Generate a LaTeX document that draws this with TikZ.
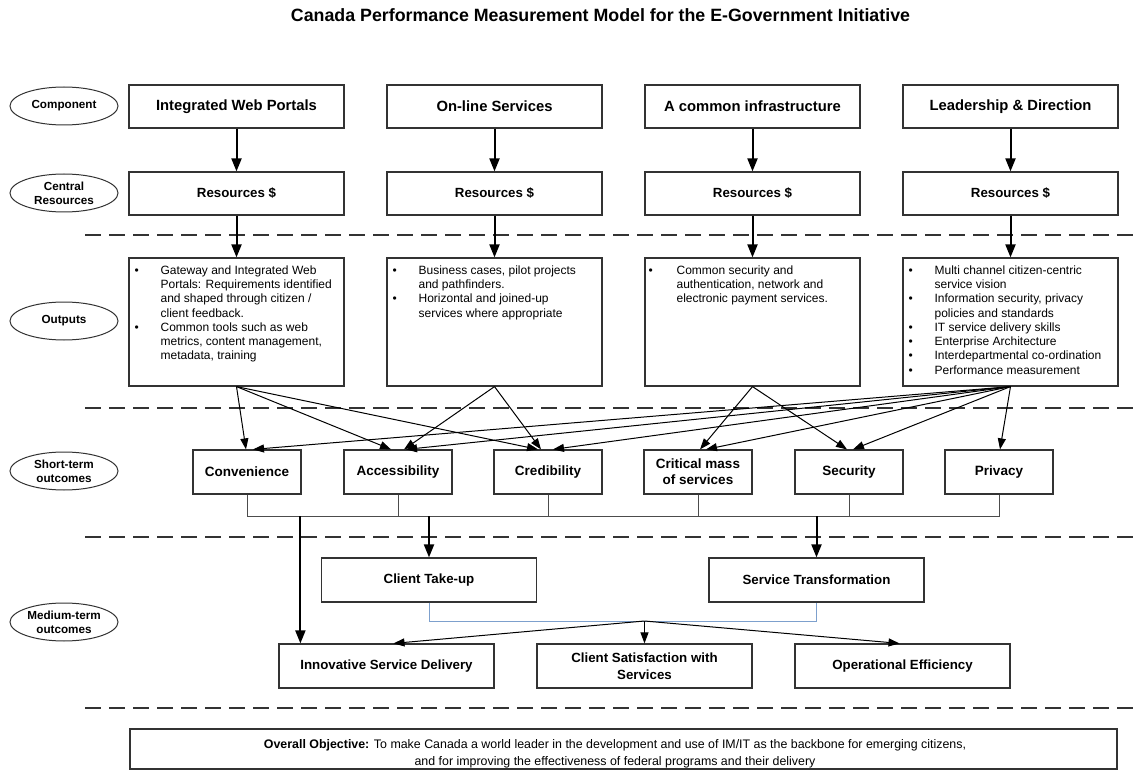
\documentclass[tikz,border=0pt]{standalone}
\usepackage{fontspec}
\setmainfont{Liberation Sans}
\usetikzlibrary{arrows.meta,calc,shapes.geometric}
\newcommand{\bl}{\textbullet}
\begin{document}
\begin{tikzpicture}[x=1pt,y=-1pt,
  box/.style={draw=black!80, line width=1.2pt, inner sep=0pt, align=center, font=\bfseries\fontsize{13.3}{16}\selectfont},
  comp/.style={box, minimum width=215pt, minimum height=43pt, font=\bfseries\fontsize{14.8}{17}\selectfont},
  res/.style={box, minimum width=215pt, minimum height=43pt},
  outb/.style={draw=black!80, line width=1.2pt, minimum width=215pt, minimum height=128pt, inner sep=0pt},
  outt/.style={anchor=north west, inner sep=0pt, font=\fontsize{12}{14.3}\selectfont, align=left},
  stb/.style={box, minimum width=108pt, minimum height=44pt, font=\bfseries\fontsize{13.5}{16}\selectfont},
  mtb/.style={box, minimum width=215pt, minimum height=44pt, font=\bfseries\fontsize{13.3}{16.5}\selectfont},
  lab/.style={ellipse, draw=black!80, line width=1pt, minimum width=108pt, minimum height=38pt, inner sep=0pt, align=center, font=\bfseries\fontsize{11.7}{14}\selectfont},
  sep/.style={line width=2pt, black!80, dash pattern=on 16pt off 8pt},
  thickarrow/.style={line width=2pt, -{Triangle[length=13pt,width=10pt]}},
  thinarrow/.style={line width=1pt, -{Triangle[length=11pt,width=8pt]}},
  busline/.style={line width=1pt, black!70},
  blueline/.style={line width=1pt, color={rgb,255:red,125;green,160;blue,205}},
]
\useasboundingbox (0,0) rectangle (1141,770);

\node[font=\bfseries\fontsize{17.8}{20}\selectfont] (title) at (600.5,15) {Canada Performance Measurement Model for the E-Government Initiative};

% row labels
\node[lab] (lcomp) at (64,106) {Component};
\node[lab] (lres) at (64,193) {Central\\Resources};
\node[lab] (lout) at (64,321) {Outputs};
\node[lab] (lst) at (64,471) {Short-term\\outcomes};
\node[lab] (lmt) at (64,622) {Medium-term\\outcomes};

% separators
\draw[sep] (85,235) -- (1141,235);
\draw[sep] (85,408) -- (1141,408);
\draw[sep] (85,537) -- (1141,537);
\draw[sep] (85,708) -- (1141,708);

% components
\node[comp] (c1) at (236.5,106.5) {Integrated Web Portals};
\node[comp] (c2) at (494.5,106.5) {On-line Services};
\node[comp] (c3) at (752.5,106.5) {A common infrastructure};
\node[comp] (c4) at (1010.5,106.5) {Leadership \& Direction};

\node[res] (r1) at (236.5,193.5) {Resources \$};
\node[res] (r2) at (494.5,193.5) {Resources \$};
\node[res] (r3) at (752.5,193.5) {Resources \$};
\node[res] (r4) at (1010.5,193.5) {Resources \$};

\node[outb] (o1) at (236.5,322) {};
\node[outb] (o2) at (494.5,322) {};
\node[outb] (o3) at (752.5,322) {};
\node[outb] (o4) at (1010.5,322) {};

\node[outt] (o1t) at ($(o1.north west)+(6,6.5)$) {\begin{tabular}{@{}p{26pt}@{}l@{}}
\bl & Gateway and Integrated Web\\
 & Portals: Requirements identified\\
 & and shaped through citizen /\\
 & client feedback.\\
\bl & Common tools such as web\\
 & metrics, content management,\\
 & metadata, training
\end{tabular}};
\node[outt] (o2t) at ($(o2.north west)+(6,6.5)$) {\begin{tabular}{@{}p{26pt}@{}l@{}}
\bl & Business cases, pilot projects\\
 & and pathfinders.\\
\bl & Horizontal and joined-up\\
 & services where appropriate
\end{tabular}};
\node[outt] (o3t) at ($(o3.north west)+(4,6.5)$) {\begin{tabular}{@{}p{28pt}@{}l@{}}
\bl & Common security and\\
 & authentication, network and\\
 & electronic payment services.
\end{tabular}};
\node[outt] (o4t) at ($(o4.north west)+(6,6.5)$) {\begin{tabular}{@{}p{26pt}@{}l@{}}
\bl & Multi channel citizen-centric\\
 & service vision\\
\bl & Information security, privacy\\
 & policies and standards\\
\bl & IT service delivery skills\\
\bl & Enterprise Architecture\\
\bl & Interdepartmental co-ordination\\
\bl & Performance measurement
\end{tabular}};

% short-term
\node[stb] (conv) at (247,472) {Convenience};
\node[stb] (acc) at (398,472) {Accessibility};
\node[stb] (cred) at (548,472) {Credibility};
\node[stb] (crit) at (698,472) {Critical mass\\of services};
\node[stb] (sec) at (849,472) {Security};
\node[stb] (priv) at (999,472) {Privacy};

% medium-term
\node[mtb] (ct) at (429,580) {Client Take-up};
\node[mtb] (st) at (816.5,580) {Service Transformation};
\node[mtb] (isd) at (386.5,666) {Innovative Service Delivery};
\node[mtb] (cs) at (644.5,666) {Client Satisfaction with\\Services};
\node[mtb] (oe) at (902.5,666) {Operational Efficiency};

% objective
\node[draw=black!80, line width=1.2pt, minimum width=987pt, minimum height=40pt, inner sep=0pt] (obj) at (623.5,749) {};
\node[font=\fontsize{12.4}{16.5}\selectfont, align=center, inner sep=0pt] (objt) at (615,754) {\textbf{Overall Objective:} To make Canada a world leader in the development and use of IM/IT as the backbone for emerging citizens,\\and for improving the effectiveness of federal programs and their delivery};

% arrows component -> resources -> outputs
\foreach \i in {1,2,3,4}{
  \draw[thickarrow] (c\i) -- (r\i);
  \draw[thickarrow] (r\i) -- (o\i);
}

% outputs -> short-term
\draw[thinarrow] (o1.south) -- ($(conv.north)+(-1,0)$);
\draw[thinarrow] (o1.south) -- ($(acc.north)+(-7,0)$);
\draw[thinarrow] (o1.south) -- ($(cred.north)+(-10,0)$);
\draw[thinarrow] (o2.south) -- ($(acc.north)+(6,0)$);
\draw[thinarrow] (o2.south) -- ($(cred.north)+(-7,0)$);
\draw[thinarrow] (o3.south) -- ($(crit.north)+(2,0)$);
\draw[thinarrow] (o3.south) -- ($(sec.north)+(-2,0)$);
\draw[thinarrow] (o4.south) -- ($(conv.north)+(6,0)$);
\draw[thinarrow] (o4.south) -- ($(acc.north)+(8,0)$);
\draw[thinarrow] (o4.south) -- ($(cred.north)+(5,0)$);
\draw[thinarrow] (o4.south) -- ($(crit.north)+(8,0)$);
\draw[thinarrow] (o4.south) -- ($(sec.north)+(4,0)$);
\draw[thinarrow] (o4.south) -- ($(priv.north)+(1,0)$);

% bus
\coordinate (bus) at (0,516);
\draw[busline] (conv.south) -- (conv.south |- bus) -- (priv.south |- bus) -- (priv.south);
\foreach \n in {acc,cred,crit,sec}{
  \draw[busline] (\n.south) -- (\n.south |- bus);
}
\coordinate (isdin) at ($(isd.north west)+(22,0)$);
\draw[thickarrow] (isdin |- bus) -- (isdin);
\draw[thickarrow] (ct.north |- bus) -- (ct.north);
\draw[thickarrow] (st.north |- bus) -- (st.north);

% medium-term join
\coordinate (mj) at (0,621);
\draw[blueline] (ct.south) -- (ct.south |- mj) -- (st.south |- mj) -- (st.south);
\coordinate (mjc) at (cs.north |- mj);
\draw[thinarrow] (mjc) -- ($(isd.north)+(7,0)$);
\draw[thinarrow] (mjc) -- (cs.north);
\draw[thinarrow] (mjc) -- ($(oe.north)+(-3,0)$);
\end{tikzpicture}
\end{document}
